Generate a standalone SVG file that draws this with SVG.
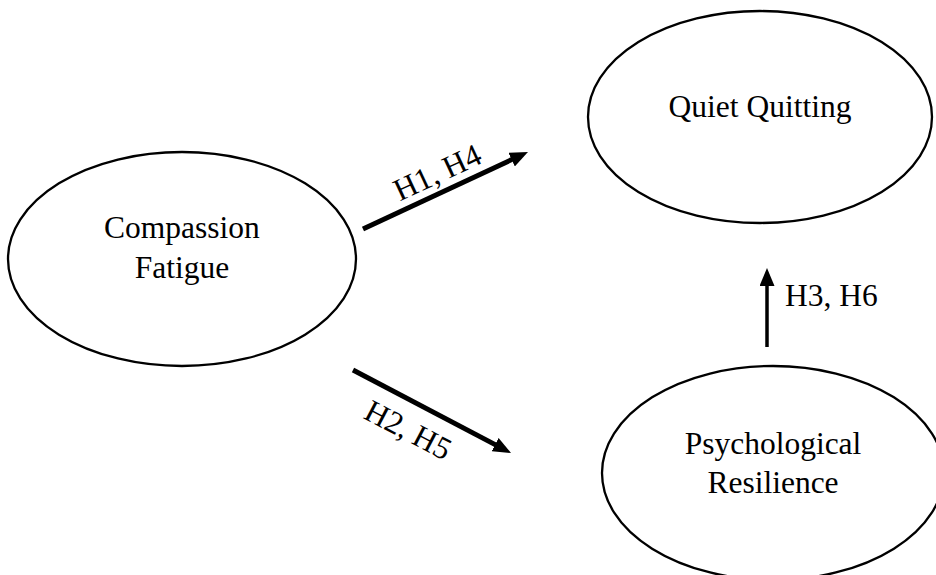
<svg xmlns="http://www.w3.org/2000/svg" width="936" height="575" viewBox="0 0 936 575">
<style>
.node ellipse{fill:#fff;stroke:#000;stroke-width:2.3}
text{font-family:"Liberation Serif","Times New Roman",serif;font-size:31.5px;fill:#000}
.c{text-anchor:middle}
.edge{stroke:#000;fill:none}
</style>
<defs>
<marker id="ah" viewBox="0 0 18 15" markerWidth="18" markerHeight="15" refX="6" refY="7.5" orient="auto" markerUnits="userSpaceOnUse">
<path d="M0,0 L18,7.5 L0,15 z" fill="#000"/>
</marker>
</defs>
<rect width="936" height="575" fill="#fff"/>
<g id="connectors">
<line class="edge" x1="363" y1="229" x2="517.1" y2="157.1" stroke-width="5" marker-end="url(#ah)"/>
<line class="edge" x1="353" y1="370" x2="500.4" y2="447.4" stroke-width="5" marker-end="url(#ah)"/>
<line class="edge" x1="767" y1="347" x2="767" y2="280" stroke-width="3.5" marker-end="url(#ah)"/>
<text class="c" transform="translate(441.7,182) rotate(-25)">H1, H4</text>
<text class="c" transform="translate(403.4,439.2) rotate(27.7)">H2, H5</text>
<text x="785" y="306">H3, H6</text>
</g>
<g id="node-compassion" class="node">
<ellipse cx="182" cy="259" rx="174" ry="107"/>
<text class="c" x="182" y="238">Compassion</text>
<text class="c" x="182" y="278">Fatigue</text>
</g>
<g id="node-quiet" class="node">
<ellipse cx="760" cy="117" rx="172" ry="106"/>
<text class="c" x="760" y="117">Quiet Quitting</text>
</g>
<g id="node-resilience" class="node">
<ellipse cx="773" cy="473" rx="171" ry="107"/>
<text class="c" x="773" y="454">Psychological</text>
<text class="c" x="773" y="493">Resilience</text>
</g>
</svg>
